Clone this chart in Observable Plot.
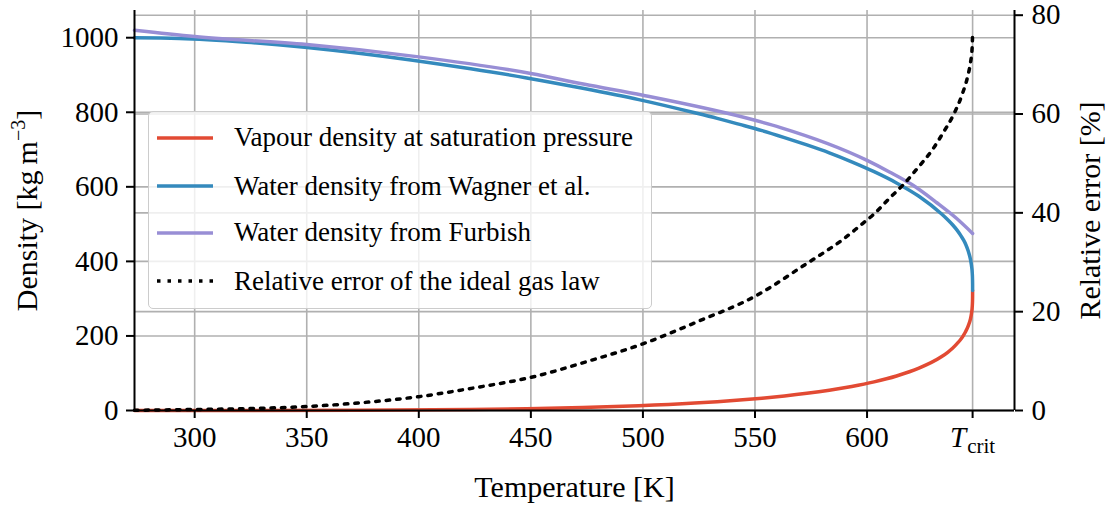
<!DOCTYPE html>
<html><head><meta charset="utf-8">
<script src="https://cdn.jsdelivr.net/npm/d3@7"></script>
<script src="https://cdn.jsdelivr.net/npm/@observablehq/plot@0.6"></script>
<style>
body{margin:0;background:#fff;font-family:"Liberation Serif","DejaVu Serif",serif;}
#wrap{position:relative;width:1106px;height:509px;}
#legend{position:absolute;left:148px;top:111px;width:504px;height:198px;border:1.5px solid #cccccc;border-radius:5px;background:rgba(255,255,255,0.8);box-sizing:border-box;}
.row{position:absolute;left:0;height:40px;display:flex;align-items:center;font-family:"Liberation Serif","DejaVu Serif",serif;font-size:27px;color:#000;white-space:nowrap;}
.row svg{margin-left:8px;margin-right:21px;}
</style></head><body><div id="wrap"></div>
<script>
// ---- data ----
const Tcrit = 647.096;
const xTicks = [300, 350, 400, 450, 500, 550, 600, Tcrit];
const yTicksLeft = [0, 200, 400, 600, 800, 1000];
const yTicksRight = [0, 20, 40, 60, 80];

const T_sat = [273.16, 293.15, 323.15, 373.15, 423.15, 448.15, 473.15, 498.15, 523.15, 533.15, 543.15, 553.15, 563.15, 573.15, 583.15, 593.15, 603.15, 613.15, 623.15, 633.15, 636, 638.15, 640.15, 642, 643.15, 644, 645.15, 646.15, 646.6, 646.95, 647.05, 647.09, 647.096];
const rho_vapour = [0.005, 0.017, 0.083, 0.598, 2.55, 4.61, 7.86, 12.74, 19.95, 23.69, 28.05, 33.15, 39.11, 46.15, 54.5, 64.56, 76.9, 92.6, 113.5, 144.0, 156.2, 167.0, 179.4, 192.3, 203.0, 212.0, 227.0, 246.0, 260.0, 280.0, 293.0, 307.0, 322.0];
const rho_wagner = [999.8, 998.2, 988.0, 958.4, 916.6, 892.1, 864.3, 834.0, 798.7, 783.7, 767.5, 750.8, 732.1, 712.3, 691.1, 667.1, 640.6, 610.5, 574.7, 527.7, 511.7, 498.2, 483.8, 467.7, 456.2, 446.0, 427.6, 405.0, 389.0, 368.0, 353.0, 338.0, 322.0];

const T_furbish = [273.15, 300, 350, 400, 450, 474, 500, 550, 561.4, 600, 610, 620, 631, 640, 647.096];
const rho_furbish = [1020, 1003, 981.6, 948.6, 904, 875, 845.6, 778.5, 759, 671, 640, 606, 558, 515, 475];

const T_err = [273.15, 300, 325, 350, 375, 400, 425, 450, 475, 500, 525, 550, 573.3, 581.2, 588.9, 596.3, 603.4, 610.1, 616.8, 623, 628.9, 633.8, 638.5, 642.3, 645, 646, 646.9, 647.096];
const err_ideal = [0.05, 0.2, 0.4, 0.8, 1.6, 2.8, 4.6, 6.7, 9.9, 13.5, 18.1, 23.1, 29.8, 32.1, 34.5, 37.2, 39.9, 43.0, 46.0, 49.3, 52.6, 56.1, 59.8, 63.8, 67.8, 70.0, 73.5, 76.4];

const seriesNames = ["Vapour density at saturation pressure", "Water density from Wagner et al.", "Water density from Furbish", "Relative error of the ideal gas law"];
const seriesColors = ["#E24A33", "#348ABD", "#988ED5", "#000000"];

// ---- scales ----
const yMaxLeft = 1073, yMaxRight = 80.95;
const k = yMaxLeft / yMaxRight;
const xDomain = [273.15, 665.79];
const FONT = '"Liberation Serif", "DejaVu Serif", serif';

const vap = T_sat.map((t, i) => ({t, v: rho_vapour[i]}));
const wag = T_sat.map((t, i) => ({t, v: rho_wagner[i]}));
const fur = T_furbish.map((t, i) => ({t, v: rho_furbish[i]}));
const err = T_err.map((t, i) => ({t, v: err_ideal[i] * k}));

const grid = {stroke: "#b0b0b0", strokeOpacity: 1, strokeWidth: 1.6};
const spine = {stroke: "#000", strokeWidth: 2};

const svg = Plot.plot({
  width: 1106, height: 509,
  marginLeft: 134, marginRight: 92, marginTop: 10, marginBottom: 99,
  x: {domain: xDomain},
  y: {domain: [0, yMaxLeft]},
  style: {fontFamily: FONT, background: "white", color: "black", overflow: "visible"},
  marks: [
    Plot.gridX(xTicks, grid),
    Plot.gridY(yTicksLeft, grid),
    Plot.gridY(yTicksRight.map(v => v * k), grid),
    Plot.line(vap, {x: "t", y: "v", stroke: seriesColors[0], strokeWidth: 3.5, curve: "monotone-x"}),
    Plot.line(wag, {x: "t", y: "v", stroke: seriesColors[1], strokeWidth: 3.5, curve: "monotone-x"}),
    Plot.line(fur, {x: "t", y: "v", stroke: seriesColors[2], strokeWidth: 3.5, curve: "monotone-x"}),
    Plot.line(err, {x: "t", y: "v", stroke: seriesColors[3], strokeWidth: 3.5, strokeDasharray: "3.5,7", curve: "monotone-x"}),
    Plot.ruleX([xDomain[0]], spine),
    Plot.ruleX([xDomain[1]], spine),
    Plot.ruleY([0], spine),
    Plot.axisX(xTicks, {tickSize: 8, tickPadding: 8, strokeWidth: 2, fontSize: 29, label: null,
      tickFormat: d => d === Tcrit ? "Tcrit" : String(d)}),
    Plot.axisY(yTicksLeft, {anchor: "left", tickSize: 8, tickPadding: 8, strokeWidth: 2, fontSize: 29, label: null,
      tickFormat: d => String(d)}),
    Plot.axisY(yTicksRight.map(v => v * k), {anchor: "right", tickSize: 8, tickPadding: 9, strokeWidth: 2, fontSize: 29, label: null,
      tickFormat: d => String(Math.round(d / k))}),
    Plot.text(["Temperature [K]"], {frameAnchor: "bottom", dy: 77, fontSize: 30, lineAnchor: "middle", textAnchor: "middle"}),
    Plot.text(["Density [kg m-3]"], {frameAnchor: "left", dx: -107, rotate: -90, fontSize: 30, textAnchor: "middle", lineAnchor: "middle"}),
    Plot.text(["Relative error [%]"], {frameAnchor: "right", dx: 76, rotate: -90, fontSize: 30, textAnchor: "middle", lineAnchor: "middle"})
  ]
});

// rich text: T_crit and superscript
const NS = "http://www.w3.org/2000/svg";
svg.querySelectorAll("text").forEach(el => {
  if (el.textContent === "Tcrit") {
    el.textContent = "";
    const a = document.createElementNS(NS, "tspan");
    a.setAttribute("font-style", "italic"); a.textContent = "T";
    const b = document.createElementNS(NS, "tspan");
    b.setAttribute("font-size", "21"); b.setAttribute("dy", "6"); b.setAttribute("dx", "1"); b.textContent = "crit";
    el.appendChild(a); el.appendChild(b);
  } else if (el.textContent === "Density [kg m-3]") {
    el.textContent = "";
    const a = document.createElementNS(NS, "tspan");
    a.textContent = "Density [kg\u2009m";
    const b = document.createElementNS(NS, "tspan");
    b.setAttribute("font-size", "20"); b.setAttribute("dy", "-12"); b.textContent = "\u22123";
    const c = document.createElementNS(NS, "tspan");
    c.setAttribute("dy", "12"); c.textContent = "]";
    el.appendChild(a); el.appendChild(b); el.appendChild(c);
  }
});

const wrap = document.getElementById("wrap");
wrap.appendChild(svg);

// legend
const legend = document.createElement("div");
legend.id = "legend";
const rowCenters = [25.7, 74, 120.7, 169];
seriesNames.forEach((name, i) => {
  const row = document.createElement("div");
  row.className = "row";
  row.style.top = (rowCenters[i] - 20) + "px";
  const dash = i === 3 ? ' stroke-dasharray="3.5,7"' : '';
  row.innerHTML = `<svg width="56" height="8"><line x1="0" x2="56" y1="4" y2="4" stroke="${seriesColors[i]}" stroke-width="3.5"${dash}/></svg><span>${name}</span>`;
  legend.appendChild(row);
});
wrap.appendChild(legend);
</script></body></html>
